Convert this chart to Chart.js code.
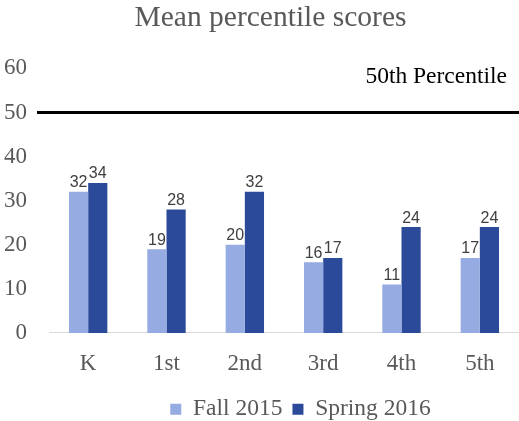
<!DOCTYPE html>
<html>
<head>
<meta charset="utf-8">
<script src="https://cdn.jsdelivr.net/npm/chart.js@4/dist/chart.umd.min.js"></script>
<style>
  html, body { margin: 0; padding: 0; background: #fff; overflow: hidden; }
  #wrap { position: relative; width: 519px; height: 421px; }
</style>
</head>
<body>
<div id="wrap"><canvas id="c"></canvas></div>
<script>
const grades = ['K', '1st', '2nd', '3rd', '4th', '5th'];
const fall2015 = [32, 19, 20, 16, 11, 17];
const spring2016 = [34, 28, 32, 17, 24, 24];
const benchmark = 50;
const benchmarkLabel = '50th Percentile';

const SERIF = '"Liberation Serif", "Times New Roman", serif';
const SANS = '"Liberation Sans", Arial, sans-serif';

// value labels above each bar
const barLabels = {
  id: 'barLabels',
  afterDatasetsDraw(chart) {
    const ctx = chart.ctx;
    ctx.save();
    ctx.font = '16px ' + SANS;
    ctx.fillStyle = '#404040';
    ctx.textAlign = 'center';
    ctx.textBaseline = 'bottom';
    chart.data.datasets.forEach((ds, i) => {
      chart.getDatasetMeta(i).data.forEach((bar, j) => {
        ctx.fillText(ds.data[j], bar.x, bar.y - 1);
      });
    });
    ctx.restore();
  }
};

// black reference line at the 50th percentile
const refLine = {
  id: 'refLine',
  afterDatasetsDraw(chart) {
    const { ctx, scales: { y }, chartArea } = chart;
    const py = y.getPixelForValue(benchmark);
    ctx.save();
    ctx.strokeStyle = '#000';
    ctx.lineWidth = 3;
    ctx.beginPath();
    ctx.moveTo(chartArea.left - 12, py);
    ctx.lineTo(chart.width, py);
    ctx.stroke();
    ctx.font = '23.5px ' + SERIF;
    ctx.fillStyle = '#000';
    ctx.textAlign = 'right';
    ctx.textBaseline = 'middle';
    ctx.fillText(benchmarkLabel, chart.width - 12, y.getPixelForValue(58));
    ctx.restore();
  }
};

// title and legend sit a bit right of the canvas centre, as in the original
const boxShift = {
  id: 'boxShift',
  afterLayout(chart) {
    const shift = (box, dx) => {
      if (!box) return;
      box.left += dx;
      box.right += dx;
    };
    shift(chart.legend, 46);
    shift(chart.titleBlock, 16);
  }
};

new Chart(document.getElementById('c'), {
  type: 'bar',
  data: {
    labels: grades,
    datasets: [
      { label: 'Fall 2015', data: fall2015, backgroundColor: '#95ABE1' },
      { label: 'Spring 2016', data: spring2016, backgroundColor: '#2C4A9A' }
    ]
  },
  options: {
    responsive: true,
    maintainAspectRatio: false,
    animation: false,
    datasets: { bar: { categoryPercentage: 0.49, barPercentage: 1.0 } },
    layout: { padding: { left: -10, right: 0, top: 0, bottom: -10 } },
    plugins: {
      title: {
        display: true,
        text: 'Mean percentile scores',
        color: '#595959',
        font: { family: SERIF, size: 29.5, weight: 'normal' },
        padding: { top: 1, bottom: 32 }
      },
      legend: {
        position: 'bottom',
        labels: {
          color: '#595959',
          font: { family: SERIF, size: 23.5 },
          boxWidth: 11,
          boxHeight: 11,
          padding: 10
        }
      },
      tooltip: { enabled: false }
    },
    scales: {
      x: {
        grid: { display: false },
        border: { color: '#d9d9d9', width: 1 },
        ticks: { color: '#595959', font: { family: SERIF, size: 23 }, padding: 9 },
        afterFit(scale) { scale.height += 1; }
      },
      y: {
        min: 0,
        max: 60,
        grid: { display: false },
        border: { display: false },
        ticks: { stepSize: 10, color: '#595959', font: { family: SERIF, size: 23 }, padding: 14 }
      }
    }
  },
  plugins: [barLabels, refLine, boxShift]
});
</script>
</body>
</html>
